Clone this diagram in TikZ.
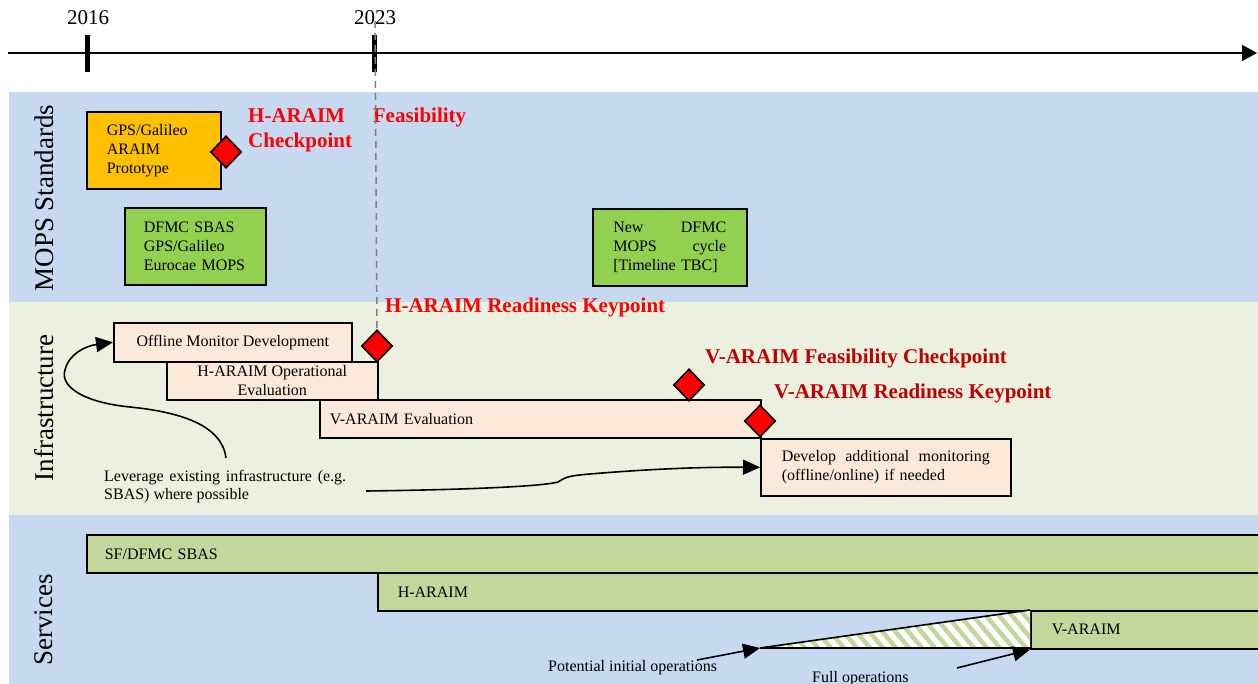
\documentclass[tikz,border=0pt]{standalone}
\usepackage{fontspec}
\setmainfont{Liberation Serif}
\usetikzlibrary{shapes.geometric,arrows.meta}
\definecolor{bandblue}{HTML}{C6D9F1}
\definecolor{bandgreen}{HTML}{EBF1DE}
\definecolor{protoorange}{HTML}{FFC000}
\definecolor{mopsgreen}{HTML}{92D050}
\definecolor{peach}{HTML}{FDE9D9}
\definecolor{servgreen}{HTML}{C3D69B}
\definecolor{darkred}{HTML}{C00000}
\definecolor{hatchgreen}{HTML}{C3D69B}
\newcommand{\spreadline}[2]{\leavevmode\hbox to #1{#2}}
\begin{document}
\begin{tikzpicture}[x=1pt,y=-1pt,
  box/.style={draw=black, line width=1.6pt, anchor=north west, inner xsep=0pt, inner ysep=0pt},
  boxtext/.style={font=\fontsize{16}{19}\selectfont},
  diam/.style={diamond, draw=black, fill=red, line width=1.6pt, minimum width=31pt, minimum height=32pt, inner sep=0pt},
  redlab/.style={font=\fontsize{21}{25}\selectfont\bfseries, text=red, inner sep=0pt, anchor=west, align=left},
  vredlab/.style={font=\fontsize{21}{25}\selectfont\bfseries, text=darkred, inner sep=0pt, anchor=west},
  bandlab/.style={font=\fontsize{27}{27}\selectfont, rotate=90, inner sep=0pt},
  yearlab/.style={font=\fontsize{21}{21}\selectfont, inner sep=0pt},
  smalltext/.style={font=\fontsize{16}{18}\selectfont, inner sep=0pt, anchor=west, align=left},
  arr/.style={line width=1.6pt, -{Triangle[length=17pt,width=15pt]}},
  tick/.style={line width=5pt}
]
\useasboundingbox (0,0) rectangle (1258,684);

% bands
\fill[bandblue] (9,92) rectangle (1258,302);
\fill[bandgreen] (9,302) rectangle (1258,515);
\fill[bandblue] (9,515) rectangle (1258,684);

% band labels
\node[bandlab] (lmops) at (44,198) {MOPS Standards};
\node[bandlab] (linfra) at (44,408) {Infrastructure};
\node[bandlab] (lserv) at (44,620) {Services};

% timeline
\coordinate (tlstart) at (8,53);
\coordinate (tlend) at (1257,53);
\draw[line width=1.6pt, -{Triangle[length=15pt,width=16pt]}] (tlstart) -- (tlend);
\draw[tick] (87,35) -- (87,72);
\draw[tick] (374,35) -- (374,72);
\node[yearlab] (y2016) at (88,18) {2016};
\node[yearlab] (y2023) at (375,18) {2023};

% MOPS standards
\node[box, boxtext, fill=protoorange, minimum width=134pt, minimum height=77pt,
      text width=94pt, inner xsep=20pt, align=left] (proto) at (86,111)
      {GPS/Galileo\\ARAIM\\Prototype};
\node[diam] (d1) at (226,152) {};
\node[redlab] (hfeas) at (248,130) {\spreadline{218pt}{H-ARAIM\hfill Feasibility}\\Checkpoint};

\node[box, boxtext, fill=mopsgreen, minimum width=141pt, minimum height=77pt,
      text width=103pt, inner xsep=19pt, align=left] (dfmc) at (124,207)
      {DFMC SBAS\\GPS/Galileo\\Eurocae MOPS};

\node[box, boxtext, fill=mopsgreen, minimum width=154pt, minimum height=77pt,
      text width=113pt, inner xsep=20.5pt, align=left] (newdfmc) at (592,208)
      {\spreadline{113pt}{New\hfill DFMC}\\\spreadline{113pt}{MOPS\hfill cycle}\\{}[Timeline TBC]};

% Infrastructure
\node[vredlab, text=red] (hready) at (385,307) {H-ARAIM Readiness Keypoint};

\node[box, boxtext, fill=peach, minimum width=238pt, minimum height=39pt, align=center] (offline) at (113,322)
      {Offline Monitor Development};
\node[box, boxtext, fill=peach, minimum width=211pt, minimum height=38pt, align=center] (hop) at (166,361)
      {H-ARAIM Operational\\Evaluation};
\node[box, boxtext, fill=peach, minimum width=441pt, minimum height=38pt, text width=421pt, inner xsep=10pt, align=left] (veval) at (319,399)
      {V-ARAIM Evaluation};
\node[box, boxtext, fill=peach, minimum width=250pt, minimum height=57pt, text width=208pt, inner xsep=21pt, align=left] (develop) at (760,438)
      {\spreadline{208pt}{Develop\hfill additional\hfill monitoring}\\(offline/online) if needed};

\node[diam] (d2) at (377,346) {};
\node[diam] (d3) at (689,385) {};
\node[diam] (d4) at (760,421) {};

\node[vredlab] (vfeas) at (705,358) {V-ARAIM Feasibility Checkpoint};
\node[vredlab] (vready) at (774,393) {V-ARAIM Readiness Keypoint};

\node[smalltext] (lev) at (104,487) {\spreadline{242pt}{Leverage\hfill existing\hfill infrastructure\hfill (e.g.}\\SBAS) where possible};
\coordinate (levtop) at (226,458);
\coordinate (levright) at (366,491);
\draw[arr] (levtop) .. controls (222,425) and (180,412) .. (130,407)
  .. controls (80,402) and (60,385) .. (65,370)
  .. controls (68,355) and (85,346) .. (offline.west);
\draw[arr] (levright) .. controls (450,490) and (540,487) .. (558,482)
  .. controls (565,478) and (565,476) .. (590,474)
  .. controls (650,469) and (700,467) .. (develop.west);

% dashed 2023 line
\draw[gray, line width=1.5pt, dash pattern=on 7pt off 5pt] (375,21) -- (d2.north);

% Services
\node[box, boxtext, fill=servgreen, minimum width=1172pt, minimum height=38pt, text width=1154pt, inner xsep=18pt, align=left] (sbas) at (86,534)
      {SF/DFMC SBAS};
\node[box, boxtext, fill=servgreen, minimum width=878pt, minimum height=38pt, text width=858pt, inner xsep=20pt, align=left] (haraim) at (377,572)
      {H-ARAIM};
\node[box, boxtext, fill=servgreen, minimum width=227pt, minimum height=38pt, text width=206pt, inner xsep=21pt, align=left] (varaim) at (1030,610)
      {V-ARAIM};

\coordinate (tril) at (760,648);
\coordinate (trit) at (1030,610);
\coordinate (trib) at (1030,648);
\fill[white] (tril) -- (trit) -- (trib) -- cycle;
\begin{scope}
  \clip (tril) -- (trit) -- (trib) -- cycle;
  \foreach \i in {700,713,...,1040} {
    \draw[hatchgreen, line width=4.5pt] (\i,600) -- ++(50,60);
  }
\end{scope}
\draw[line width=1.6pt] (tril) -- (trit);
\draw[line width=1.6pt] (tril) -- (trib);

\node[smalltext] (potential) at (548,668) {Potential initial operations};
\node[smalltext] (fullops) at (812,679) {Full operations};
\coordinate (potstart) at (697,660);
\coordinate (fullstart) at (957,668);
\draw[arr] (potstart) -- (tril);
\draw[arr] (fullstart) -- (varaim.south west);
\end{tikzpicture}
\end{document}
